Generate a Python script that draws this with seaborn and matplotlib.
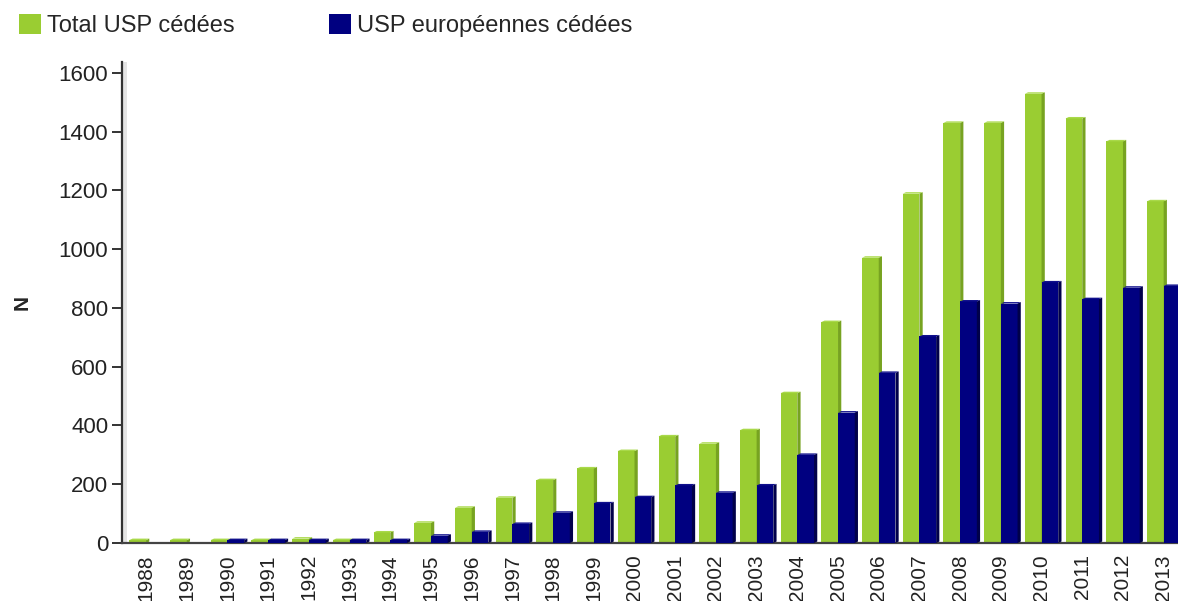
import pandas as pd
import numpy as np
import seaborn as sns
import matplotlib.pyplot as plt
from matplotlib.patches import Polygon, Patch


years = [str(y) for y in range(1988, 2014)]
total_usp = [10, 10, 10, 10, 15, 10, 36, 69, 120, 154, 214, 254, 313, 363, 338,
             384, 510, 752, 971, 1189, 1430, 1430, 1529, 1445, 1367, 1163]
euro_usp = [0, 0, 10, 10, 10, 10, 10, 25, 38, 65, 103, 135, 156, 196, 171,
            196, 300, 444, 579, 703, 822, 815, 887, 830, 869, 875]
series_names = ["Total USP cédées", "USP européennes cédées"]

green = "#9acd32"
navy = "#000080"
side_colors = {green: "#77a321", navy: "#00004a"}
top_colors = {green: "#a9d94a", navy: "#10108c"}

df = pd.DataFrame({
    "year": years * 2,
    "N": total_usp + euro_usp,
    "serie": [series_names[0]] * len(years) + [series_names[1]] * len(years),
})

sns.set_style("white")
plt.rcParams["font.family"] = ["Liberation Sans", "DejaVu Sans"]

fig = plt.figure(figsize=(11.78, 6.01), dpi=100)
ax = fig.add_axes([0.1036, 0.0965, 0.9015, 0.8003])

sns.barplot(data=df, x="year", y="N", hue="serie", palette=[green, navy],
            width=0.82, saturation=1, legend=False, ax=ax)

# fake 3D look: side + top faces on every bar
dx, dy = 0.08, 5
for i, p in enumerate(ax.patches):
    h = p.get_height()
    if h <= 0:
        continue
    x0 = p.get_x()
    x1 = x0 + p.get_width()
    col = green if i < len(years) else navy
    z = 2 if col == green else 3
    p.set_zorder(z)
    p.set_edgecolor("none")
    side = Polygon([(x1, 0), (x1 + dx, dy), (x1 + dx, h + dy), (x1, h)],
                   closed=True, facecolor=side_colors[col], edgecolor="none",
                   zorder=z + 0.1)
    top = Polygon([(x0, h), (x0 + dx, h + dy), (x1 + dx, h + dy), (x1, h)],
                  closed=True, facecolor=top_colors[col], edgecolor="none",
                  zorder=z + 0.1)
    ax.add_patch(side)
    ax.add_patch(top)

ax.set_xlim(-0.59, 25.5)
ax.set_ylim(0, 1637)
ax.set_yticks(np.arange(0, 1601, 200))
ax.axvspan(-0.59, -0.47, color="#e4e4e4", zorder=0, lw=0)

for s in ["top", "right"]:
    ax.spines[s].set_visible(False)
ax.spines["left"].set_color("#333333")
ax.spines["left"].set_linewidth(1.6)
ax.spines["bottom"].set_color("#444444")
ax.spines["bottom"].set_linewidth(1.6)

ax.tick_params(axis="y", direction="out", length=7, width=1.4, color="#333333",
               labelsize=16, labelcolor="#222222", left=True, pad=3)
ax.tick_params(axis="x", length=0, labelsize=15, labelcolor="#222222",
               rotation=90, pad=8)
ax.set_xlabel("")
ax.set_ylabel("N", fontsize=15, fontweight="bold", rotation=90)
ax.yaxis.set_label_coords(-0.085, 0.5)

handles = [Patch(facecolor=green, edgecolor="none"),
           Patch(facecolor=navy, edgecolor="none")]
fig.legend(handles, series_names, loc="upper left", bbox_to_anchor=(-0.002, 1.012),
           ncol=2, frameon=False, fontsize=17, handlelength=0.93, handleheight=0.9,
           handletextpad=0.25, columnspacing=4.0)

fig.savefig("out.png", dpi=100)
